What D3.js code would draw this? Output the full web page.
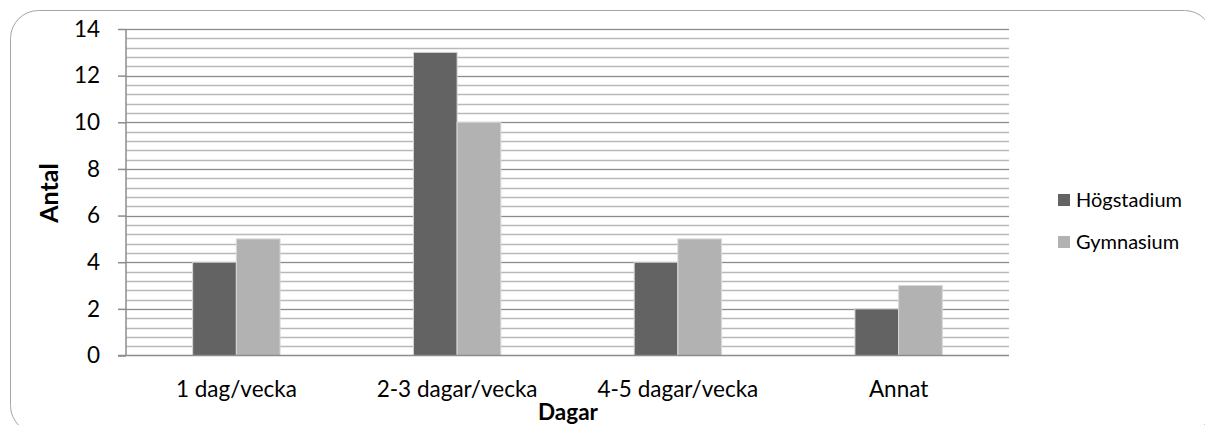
<!DOCTYPE html>
<html><head><meta charset="utf-8">
<script src="https://cdn.jsdelivr.net/npm/d3@7/dist/d3.min.js"></script>
<style>body{margin:0;background:#fff}svg{display:block}text{font-family:Lato,"Open Sans",sans-serif}</style>
</head><body><svg id="c" width="1205" height="425"></svg>
<script>
const categories = ["1 dag/vecka","2-3 dagar/vecka","4-5 dagar/vecka","Annat"];
const seriesNames = ["Högstadium","Gymnasium"];
const hogstadium = [4,13,4,2];
const gymnasium = [5,10,5,3];
const yTicks = [0,2,4,6,8,10,12,14];
const colors = ["#636363","#b2b2b2"];

const svg = d3.select("#c");
svg.append("rect").attr("x",10.5).attr("y",10.5).attr("width",1202).attr("height",423)
  .attr("rx",28).attr("fill","#fff").attr("stroke","#a6a6a6").attr("stroke-width",1);

const L=126,R=1009,T=29,B=355.5;
const x = d3.scaleBand().domain(categories).range([L,R]).paddingInner(0).paddingOuter(0);
const y = d3.scaleLinear().domain([0,14]).range([B,T]);

const minor = d3.range(0,14.001,0.4).filter(v=>v>0);
svg.append("g").selectAll("line").data(minor).join("line")
  .attr("x1",L).attr("x2",R).attr("y1",d=>Math.round(y(d))+0.5).attr("y2",d=>Math.round(y(d))+0.5)
  .attr("stroke","#b9b9b9").attr("stroke-width",1.5);
svg.append("g").selectAll("line").data(yTicks.filter(v=>v>0)).join("line")
  .attr("x1",L).attr("x2",R).attr("y1",d=>Math.round(y(d))+0.5).attr("y2",d=>Math.round(y(d))+0.5)
  .attr("stroke","#8c8c8c").attr("stroke-width",1.2);

const bw = 43.7;
const data = categories.map((c,i)=>[hogstadium[i],gymnasium[i]]);
const g = svg.append("g");
data.forEach((vals,i)=>{
  const cx = x(categories[i]) + x.bandwidth()/2;
  vals.forEach((v,s)=>{
    g.append("rect").attr("x",cx - bw + s*bw).attr("y",y(v)).attr("width",bw).attr("height",y(0)-y(v))
      .attr("fill",colors[s]).attr("stroke","#d8d8d8").attr("stroke-width",1);
  });
});

const ya = d3.axisLeft(y).tickValues(yTicks).tickSize(8).tickPadding(18);
const yg = svg.append("g").attr("transform",`translate(${L},0)`).call(ya);
yg.select(".domain").attr("stroke","#8c8c8c").attr("stroke-width",1.5).attr("d",`M0,${T}V${B}`);
yg.selectAll(".tick line").attr("stroke","#8c8c8c").attr("stroke-width",1.5);
yg.selectAll("text").attr("font-size",22.5).attr("fill","#000").style("font-family","Lato,sans-serif");

const xa = d3.axisBottom(x).tickSize(0).tickPadding(26);
const xg = svg.append("g").attr("transform",`translate(0,${B})`).call(xa);
xg.select(".domain").attr("stroke","#8c8c8c").attr("stroke-width",1.5).attr("d",`M${L-8},0H${R}`);
xg.selectAll("text").attr("font-size",22.5).attr("fill","#000").style("font-family","Lato,sans-serif");

svg.append("text").attr("transform","translate(58,193) rotate(-90)").attr("text-anchor","middle")
  .attr("font-size",25).attr("font-weight","bold").text("Antal");
svg.append("text").attr("x",568).attr("y",420).attr("text-anchor","middle")
  .attr("font-size",22.5).attr("font-weight","bold").text("Dagar");

const leg = svg.append("g");
seriesNames.forEach((n,i)=>{
  const cy = 200 + i*42;
  leg.append("rect").attr("x",1058).attr("y",cy-6).attr("width",12).attr("height",12).attr("fill",colors[i]);
  leg.append("text").attr("x",1076).attr("y",cy).attr("dy","0.35em").attr("font-size",20).text(n);
});
</script></body></html>
